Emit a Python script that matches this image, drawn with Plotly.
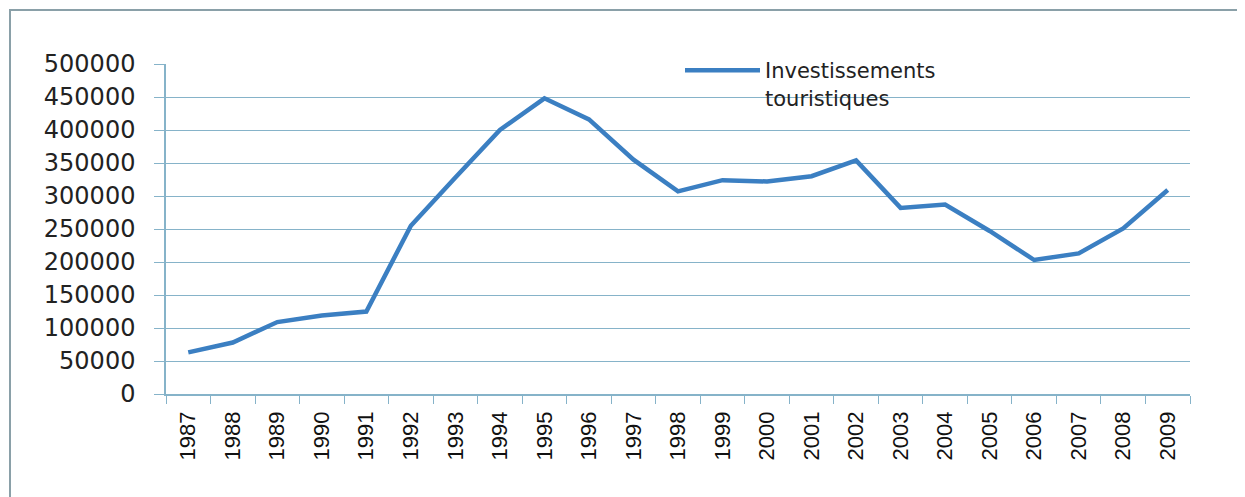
import plotly.graph_objects as go

years = ["1987", "1988", "1989", "1990", "1991", "1992", "1993", "1994", "1995", "1996",
         "1997", "1998", "1999", "2000", "2001", "2002", "2003", "2004", "2005", "2006",
         "2007", "2008", "2009"]
investissements = [63000, 78000, 109000, 119000, 125000, 255000, 328000, 400000, 448000, 416000,
                   355000, 307000, 324000, 322000, 330000, 354000, 282000, 287000, 247000, 203000,
                   213000, 251000, 309000]
series_name = "Investissements<br>touristiques"
y_ticks = [0, 50000, 100000, 150000, 200000, 250000, 300000, 350000, 400000, 450000, 500000]

# page has an 8px body margin, so the figure is offset by 8px
OFF = 8
W, H = 1245 - OFF, 497 - OFF
ML, MR, MT, MB = 166 - OFF, 55, 64 - OFF, 103
pw, ph = W - ML - MR, H - MT - MB

fig = go.Figure()
fig.add_trace(go.Scatter(
    x=years, y=investissements, mode="lines", name=series_name,
    line=dict(color="#3b7fc2", width=4.5), showlegend=True,
))

grid = "#86b3c9"
fig.update_layout(
    width=W, height=H,
    margin=dict(l=ML, r=MR, t=MT, b=MB),
    paper_bgcolor="white", plot_bgcolor="white",
    showlegend=True,
    legend=dict(x=(680 - OFF - ML) / pw, y=1 + (MT - (50 - OFF)) / ph, xanchor="left", yanchor="top",
                bgcolor="rgba(0,0,0,0)", font=dict(family="DejaVu Sans", size=21, color="#222"),
                itemwidth=75, valign="top", tracegroupgap=0),
    xaxis=dict(type="category", tickangle=-90, tickson="boundaries", ticks="outside",
               ticklen=8, tickcolor=grid, showline=True, linecolor=grid, linewidth=1.5,
               showgrid=False, ticklabelstandoff=7,
               tickfont=dict(family="Liberation Sans", size=22, color="#111"),
               range=[-0.5, len(years) - 0.5]),
    yaxis=dict(range=[0, 500000], tickvals=y_ticks, ticktext=[str(v) for v in y_ticks],
               ticks="outside", ticklen=10, tickcolor=grid, showline=True, linecolor=grid,
               linewidth=1.5, showgrid=True, gridcolor=grid, gridwidth=1, zeroline=False,
               ticklabelstandoff=14,
               tickfont=dict(family="DejaVu Sans", size=24, color="#222")),
)

# outer chart border
fig.add_shape(type="rect", xref="paper", yref="paper",
              x0=(10 - OFF - ML) / pw, x1=(1240 - OFF - ML) / pw,
              y0=-(H + 20 - MT - ph) / ph, y1=1 + (MT - (10 - OFF)) / ph,
              line=dict(color="#8aa0a8", width=2), fillcolor="rgba(0,0,0,0)", layer="below")

fig.write_html("out.html")
